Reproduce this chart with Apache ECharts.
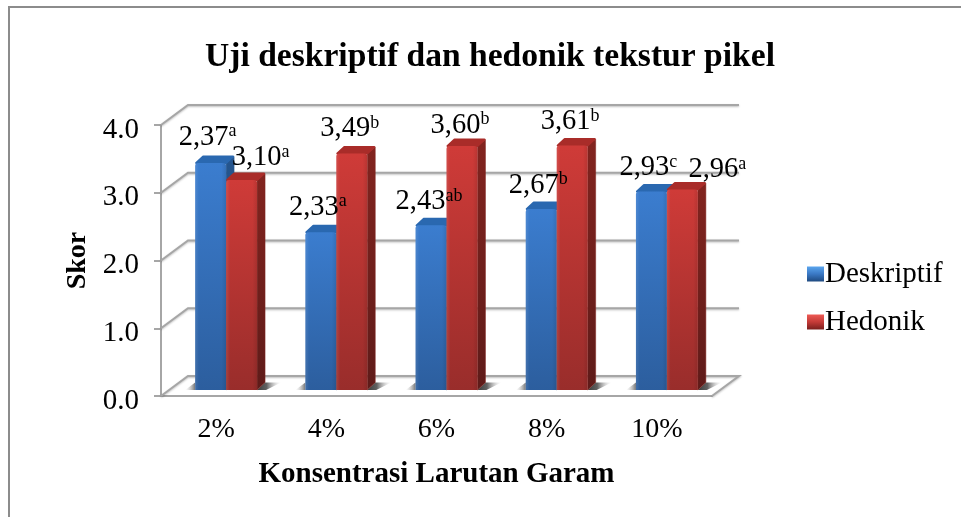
<!DOCTYPE html>
<html>
<head>
<meta charset="utf-8">
<style>
  html, body { margin: 0; padding: 0; background: #fff; }
  #chart { width: 961px; height: 517px; }
</style>
<script src="https://cdn.jsdelivr.net/npm/echarts@6/dist/echarts.min.js"></script>
</head>
<body>
<div id="chart"></div>
<script>
const categories = ["2%", "4%", "6%", "8%", "10%"];
const yTicks = [0, 1, 2, 3, 4];
const deskriptifValues = [3.35, 2.33, 2.43, 2.67, 2.93];
const hedonikValues = [3.10, 3.49, 3.60, 3.61, 2.96];
const deskriptifLabels = ["2,37", "2,33", "2,43", "2,67", "2,93"];
const hedonikLabels = ["3,10", "3,49", "3,60", "3,61", "2,96"];
const deskriptifSup = ["a", "a", "ab", "b", "c"];
const hedonikSup = ["a", "b", "b", "b", "a"];

// labels were placed by hand in the original, so each one has its own nudge
const deskriptifNudge = [[-3, -26], [-3, -25], [-2, -24], [-3, -24], [-3, -24]];
const hedonikNudge = [[19, -22], [-2, -25], [-2, -21], [-2, -24], [35, -20]];

const FONT = '"Liberation Serif", "Times New Roman", serif';
const GRID_GRAY = "#a6a6a6";

// 3d look of the chart, px
const WALL_DX = 27;
const WALL_DY = 20;
const BAR_DX = 8;
const BAR_DY = 7.5;
const BAR_SHIFT_X = 10;
const BAR_SHIFT_Y = 6;
const BAR_RATIO = 0.281;

function vGrad(stops) {
  return new echarts.graphic.LinearGradient(0, 0, 0, 1, stops.map((s) => ({ offset: s[0], color: s[1] })));
}

function hGrad(stops) {
  return new echarts.graphic.LinearGradient(0, 0, 1, 0, stops.map((s) => ({ offset: s[0], color: s[1] })));
}

function renderWall(params, api) {
  const v = api.value(0);
  const cs = params.coordSys;
  const y = api.coord([0, v])[1];
  const x0 = cs.x;
  const x1 = cs.x + cs.width;
  const points = [
    [x0, y],
    [x0 + WALL_DX, y - WALL_DY],
    [x1 + WALL_DX, y - WALL_DY],
  ];
  if (v === 0) points.push([x1, y]);
  return {
    type: "polyline",
    shape: { points: points },
    silent: true,
    style: {
      fill: "none",
      stroke: GRID_GRAY,
      lineWidth: 2,
      shadowColor: "rgba(0,0,0,0.25)",
      shadowBlur: 2,
      shadowOffsetY: 1,
    },
  };
}

function barBox(index, api) {
  const i = api.value(0);
  const v = api.value(1);
  const w = api.size([1, 0])[0] * BAR_RATIO;
  const top = api.coord([i, v]);
  const base = api.coord([i, 0]);
  const left = base[0] + BAR_SHIFT_X + (index === 0 ? -w : 0);
  return { i: i, w: w, left: left, right: left + w, yTop: top[1] - BAR_SHIFT_Y, yBase: base[1] - BAR_SHIFT_Y };
}

function makeBarRenderer(index, look) {
  return function (params, api) {
    const b = barBox(index, api);
    const children = [];
    // floor shadow, only on the outer side of the pair
    if (index === 1) {
      children.push({
        type: "polygon",
        shape: { points: [[b.right, b.yBase], [b.right + BAR_DX, b.yBase - BAR_DY], [b.right + 24, b.yBase - BAR_DY], [b.right + 9, b.yBase]] },
        style: { fill: hGrad([[0, "rgba(50,50,50,0.95)"], [0.4, "rgba(70,70,70,0.85)"], [1, "rgba(200,200,200,0)"]]) },
      });
    } else {
      children.push({
        type: "polygon",
        shape: { points: [[b.left - 10, b.yBase], [b.left, b.yBase - BAR_DY], [b.left, b.yBase]] },
        style: { fill: hGrad([[0, "rgba(200,200,200,0)"], [1, "rgba(90,90,90,0.85)"]]) },
      });
    }
    children.push({
      type: "polygon",
      shape: { points: [[b.right, b.yTop], [b.right + BAR_DX, b.yTop - BAR_DY + 1], [b.right + BAR_DX, b.yBase - BAR_DY], [b.right, b.yBase]] },
      style: { fill: vGrad([[0, look.sideTop], [1, look.sideBottom]]), stroke: look.sideTop, lineWidth: 0.5 },
    });
    children.push({
      type: "polygon",
      shape: { points: [[b.left + 1, b.yTop], [b.left + BAR_DX, b.yTop - BAR_DY + 1], [b.right + BAR_DX - 1, b.yTop - BAR_DY + 1], [b.right, b.yTop]] },
      style: { fill: look.cap, stroke: look.cap, lineWidth: 2, lineJoin: "round" },
    });
    children.push({
      type: "rect",
      shape: { x: b.left, y: b.yTop, width: b.w, height: b.yBase - b.yTop, r: [3, 3, 0, 0] },
      style: { fill: vGrad([[0, look.frontTop], [1, look.frontBottom]]) },
    });
    children.push({
      type: "rect",
      shape: { x: b.left, y: b.yTop, width: b.w, height: b.yBase - b.yTop, r: [3, 3, 0, 0] },
      style: { fill: hGrad([[0, "rgba(255,255,255,0.1)"], [0.12, "rgba(255,255,255,0)"], [0.85, "rgba(0,0,0,0)"], [1, "rgba(0,0,0,0.1)"]]) },
    });
    return { type: "group", children: children };
  };
}

function makeLabelRenderer(index, labels, sups, nudges) {
  return function (params, api) {
    const b = barBox(index, api);
    const nudge = nudges[b.i];
    return {
      type: "text",
      silent: true,
      style: {
        x: b.left + b.w / 2 + nudge[0],
        y: b.yTop + nudge[1],
        text: "{v|" + labels[b.i] + "}{s|" + sups[b.i] + "}",
        align: "center",
        verticalAlign: "middle",
        rich: {
          v: { fontFamily: FONT, fontSize: 28.5, fill: "#000" },
          s: { fontFamily: FONT, fontSize: 18, fill: "#000", verticalAlign: "top", lineHeight: 28, padding: [0, 0, 7, 0] },
        },
      },
    };
  };
}

const blueLook = {
  frontTop: "#3b7dcf", frontBottom: "#2c5e9e",
  sideTop: "#25568f", sideBottom: "#1c3f6c",
  cap: "#2a68b0",
};
const redLook = {
  frontTop: "#cf3b38", frontBottom: "#992d2b",
  sideTop: "#82241f", sideBottom: "#5e1b19",
  cap: "#a92c29",
};

const option = {
  animation: false,
  backgroundColor: "#fff",
  title: {
    text: "Uji deskriptif dan hedonik tekstur pikel",
    left: 485,
    top: 35,
    textAlign: "center",
    textStyle: { fontFamily: FONT, fontSize: 33.6, fontWeight: "bold", color: "#000" },
  },
  legend: {
    orient: "vertical",
    left: 802,
    top: 254,
    itemWidth: 17,
    itemHeight: 15,
    itemGap: 18,
    selectedMode: false,
    textStyle: { fontFamily: FONT, fontSize: 29, lineHeight: 30, color: "#000", padding: [0, 0, 0, -4] },
    data: [
      { name: "Deskriptif", icon: "rect", itemStyle: { color: vGrad([[0, "#5aa5ee"], [0.5, "#3a78c4"], [1, "#1f4a80"]]) } },
      { name: "Hedonik", icon: "rect", itemStyle: { color: vGrad([[0, "#ee5a55"], [0.5, "#c43a37"], [1, "#7a1f1d"]]) } },
    ],
  },
  grid: { left: 161, right: 249, top: 125, bottom: 121 },
  xAxis: {
    type: "category",
    data: categories,
    name: "Konsentrasi Larutan Garam",
    nameLocation: "middle",
    nameGap: 64,
    nameTextStyle: { fontFamily: FONT, fontSize: 29, fontWeight: "bold", color: "#000" },
    axisLine: { lineStyle: { color: GRID_GRAY, width: 2 } },
    axisTick: { length: 7, lineStyle: { color: GRID_GRAY, width: 2 } },
    axisLabel: { fontFamily: FONT, fontSize: 28, color: "#000", margin: 20 },
  },
  yAxis: {
    type: "value",
    min: 0,
    max: 4,
    interval: 1,
    name: "Skor",
    nameLocation: "middle",
    nameGap: 69,
    nameTextStyle: { fontFamily: FONT, fontSize: 28, fontWeight: "bold", color: "#000" },
    splitLine: { show: false },
    axisLine: { show: true, lineStyle: { color: GRID_GRAY, width: 2 } },
    axisTick: { show: true, length: 7, lineStyle: { color: GRID_GRAY, width: 2 } },
    axisLabel: { fontFamily: FONT, fontSize: 29, color: "#000", margin: 22, verticalAlign: "top", lineHeight: 10, formatter: (v) => v.toFixed(1) },
  },
  series: [
    {
      name: "wall",
      type: "custom",
      renderItem: renderWall,
      data: yTicks.map((v) => [v]),
      encode: { y: 0 },
      silent: true,
      z: 1,
    },
    {
      name: "Deskriptif",
      type: "custom",
      renderItem: makeBarRenderer(0, blueLook),
      data: deskriptifValues.map((v, i) => [i, v]),
      encode: { x: 0, y: 1 },
      itemStyle: { color: "#3b7dcf" },
      z: 3,
    },
    {
      name: "Hedonik",
      type: "custom",
      renderItem: makeBarRenderer(1, redLook),
      data: hedonikValues.map((v, i) => [i, v]),
      encode: { x: 0, y: 1 },
      itemStyle: { color: "#cf3b38" },
      z: 4,
    },
    {
      name: "labelDeskriptif",
      type: "custom",
      renderItem: makeLabelRenderer(0, deskriptifLabels, deskriptifSup, deskriptifNudge),
      data: deskriptifValues.map((v, i) => [i, v]),
      encode: { x: 0, y: 1 },
      silent: true,
      z: 6,
    },
    {
      name: "labelHedonik",
      type: "custom",
      renderItem: makeLabelRenderer(1, hedonikLabels, hedonikSup, hedonikNudge),
      data: hedonikValues.map((v, i) => [i, v]),
      encode: { x: 0, y: 1 },
      silent: true,
      z: 6,
    },
  ],
  graphic: [
    {
      type: "polyline",
      silent: true,
      shape: { points: [[9, 517], [9, 7], [961, 7]] },
      style: { fill: "none", stroke: "#8c8c8c", lineWidth: 2 },
    },
  ],
};

const myChart = echarts.init(document.getElementById("chart"));
myChart.setOption(option);
</script>
</body>
</html>
